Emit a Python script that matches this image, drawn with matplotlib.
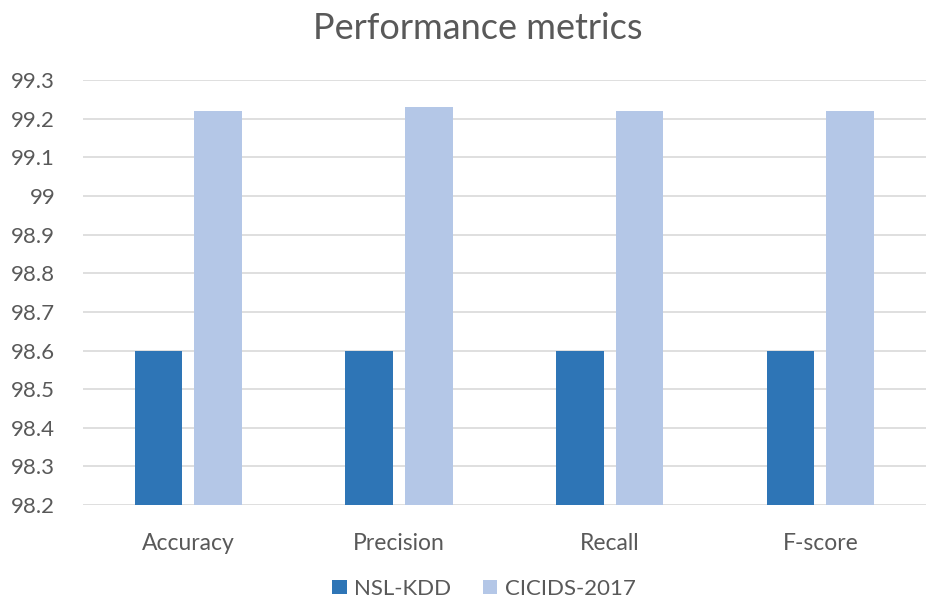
import matplotlib
matplotlib.use("Agg")
import matplotlib.pyplot as plt
import numpy as np

categories = ["Accuracy", "Precision", "Recall", "F-score"]
nsl_kdd = [98.6, 98.6, 98.6, 98.6]
cicids_2017 = [99.22, 99.23, 99.22, 99.22]
y_ticks = [98.2, 98.3, 98.4, 98.5, 98.6, 98.7, 98.8, 98.9, 99.0, 99.1, 99.2, 99.3]
y_tick_labels = ["98.2", "98.3", "98.4", "98.5", "98.6", "98.7", "98.8", "98.9", "99", "99.1", "99.2", "99.3"]

plt.rcParams["font.family"] = ["Lato", "DejaVu Sans"]
text_color = "#595959"

fig = plt.figure(figsize=(9.27, 5.99), dpi=100)
ax = fig.add_axes([0.0895, 0.157, 0.909, 0.709])

x = np.arange(len(categories))
w = 0.226
gap = 0.057
base = 98.2
ax.bar(x - (w + gap) / 2, np.array(nsl_kdd) - base, w, bottom=base,
       color="#2E75B6", label="NSL-KDD", zorder=3)
ax.bar(x + (w + gap) / 2, np.array(cicids_2017) - base, w, bottom=base,
       color="#B4C7E7", label="CICIDS-2017", zorder=3)

ax.set_xlim(-0.5, len(categories) - 0.5)
ax.set_ylim(98.2, 99.3)
ax.set_yticks(y_ticks)
ax.set_yticklabels(y_tick_labels)
ax.set_xticks(x)
ax.set_xticklabels(categories)
ax.tick_params(axis="both", length=0, labelsize=16.5, colors=text_color)
ax.tick_params(axis="x", pad=20)
ax.tick_params(axis="y", pad=20, labelsize=16)
for lab in ax.get_yticklabels():
    lab.set_horizontalalignment("right")
ax.grid(axis="y", color="#D9D9D9", linewidth=1.2, zorder=0)
for s in ax.spines.values():
    s.set_visible(False)

fig.text(0.515, 0.953, "Performance metrics", ha="center", va="center",
         fontsize=26, color=text_color)

leg = fig.legend(loc="center", bbox_to_anchor=(0.522, 0.017), ncol=2, frameon=False,
                 fontsize=16, handlelength=0.65, handleheight=0.65,
                 columnspacing=1.4, handletextpad=0.35)
for t in leg.get_texts():
    t.set_color(text_color)

fig.savefig("out.png", dpi=100, facecolor="white")
